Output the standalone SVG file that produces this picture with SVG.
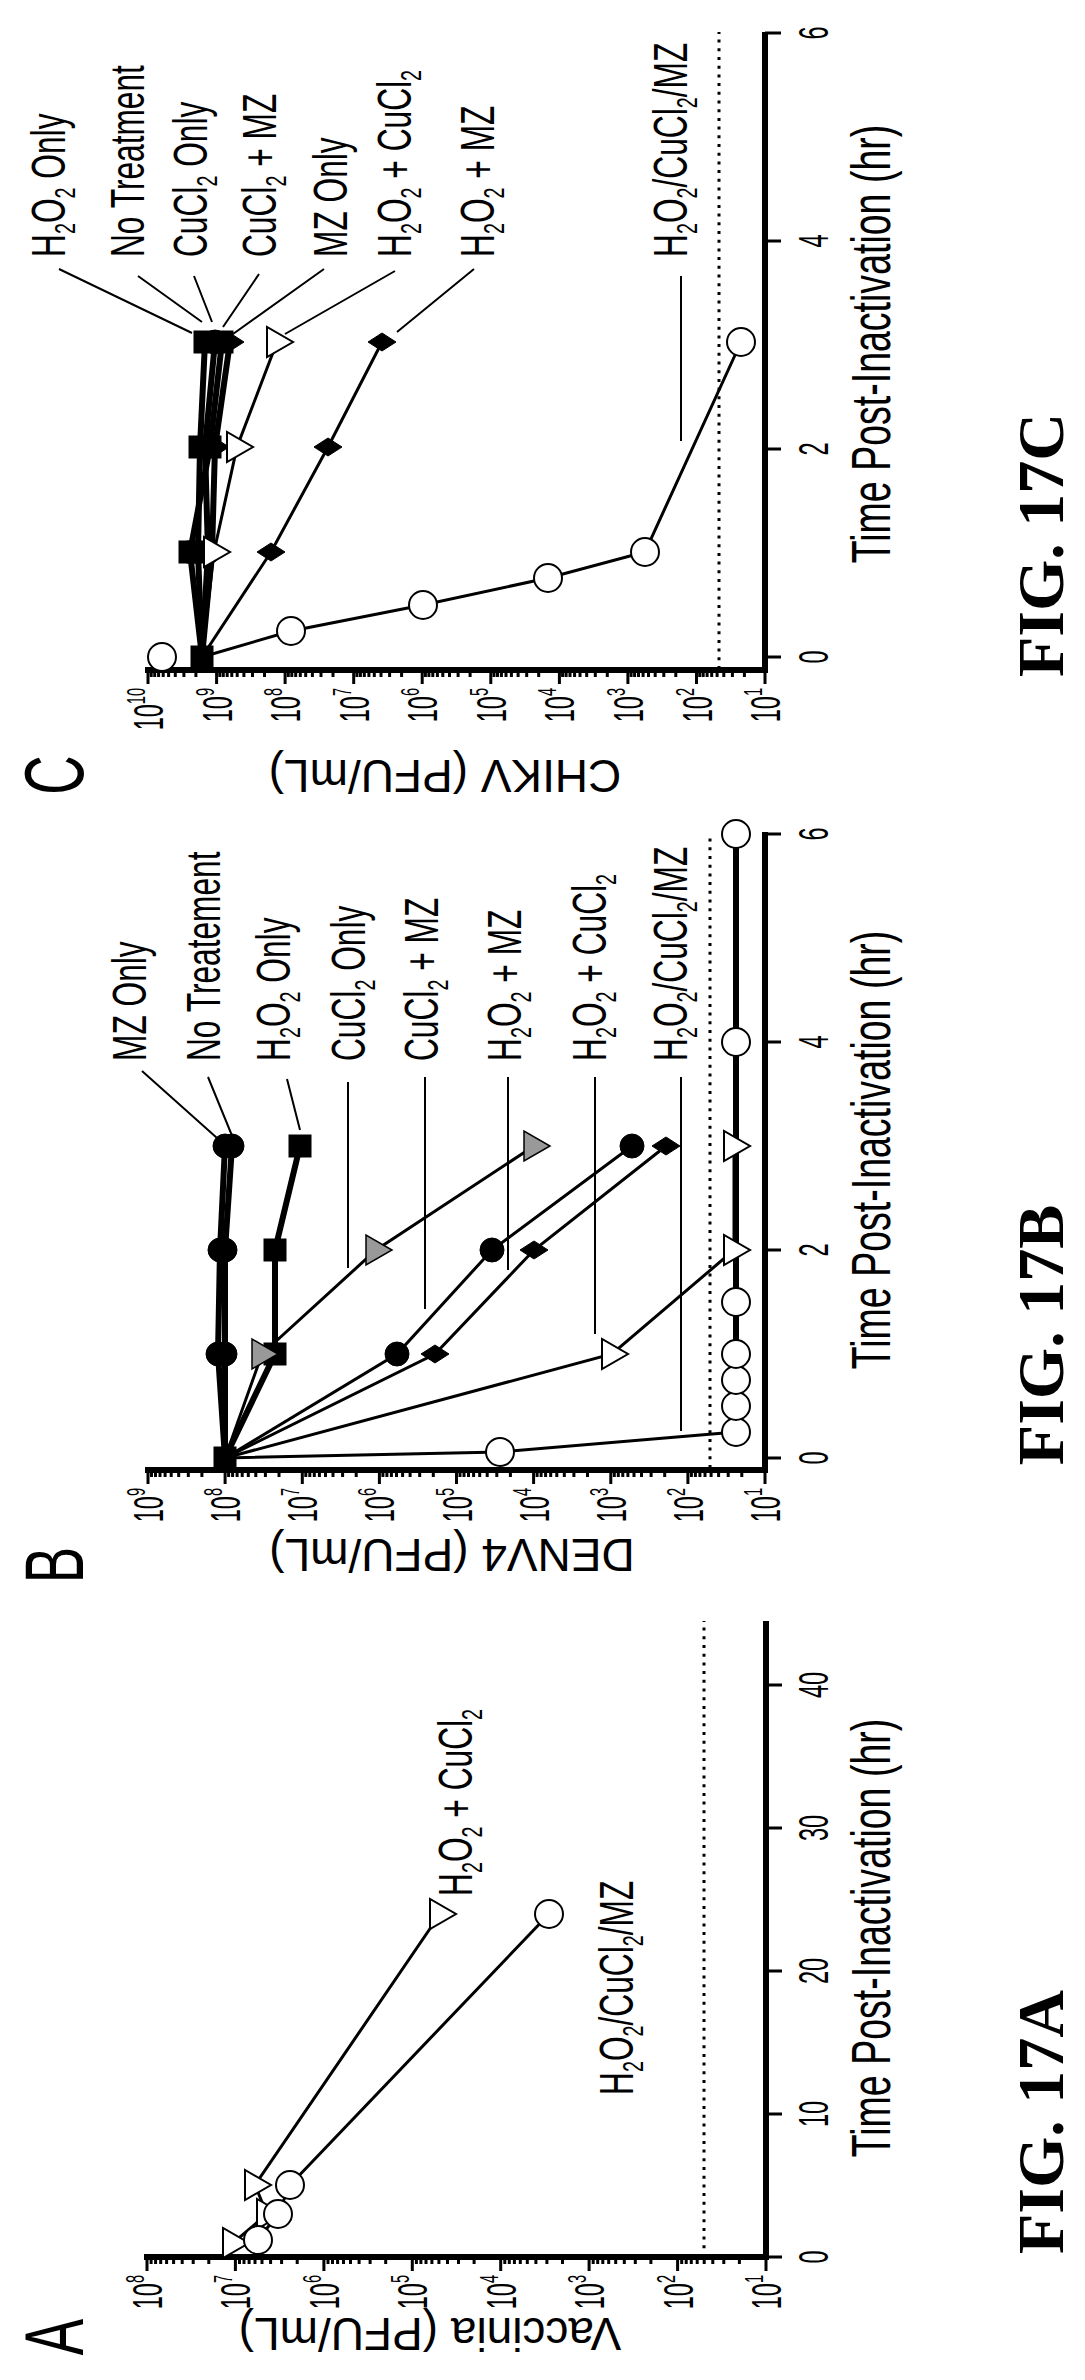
<svg xmlns="http://www.w3.org/2000/svg" xmlns:xlink="http://www.w3.org/1999/xlink" width="1085" height="2380" viewBox="0 0 1085 2380">
<style>
text{font-family:"Liberation Sans",Arial,sans-serif;fill:#000}
.lbl{font-size:48px}
.sub{font-size:30px}
.tk{font-size:42px}
.sup{font-size:26px}
.ttl{font-size:46px}
.xt{font-size:56px}
.pl{font-size:84px}
.fig{font-family:"Liberation Serif","Times New Roman",serif;font-size:66px;font-weight:bold}
.ax{fill:none;stroke:#000;stroke-width:6}
.tick{fill:none;stroke:#000;stroke-width:3}
.dot{fill:none;stroke:#000;stroke-width:3;stroke-dasharray:3 5.7}
.ln{fill:none;stroke:#000;stroke-width:3}
.th{fill:none;stroke:#000;stroke-width:6}
.ld{fill:none;stroke:#000;stroke-width:2}
.open{fill:#fff;stroke:#000;stroke-width:2}
.fill{fill:#000;stroke:#000;stroke-width:1}
.gray{fill:#999;stroke:#000;stroke-width:1.5}
</style>
<defs>
<path id="tri" d="M-15,-10 L15,-10 L0,16 Z"/>
<circle id="cir" r="14"/>
<circle id="fc" r="12"/>
<rect id="sq" x="-11" y="-11" width="22" height="22"/>
<path id="dia" d="M0,-14 L9,0 L0,14 L-9,0 Z"/>
<path id="mA" d="M0,61.8h-7M0,46.2h-7M0,35.2h-7M0,26.6h-7M0,19.6h-7M0,13.7h-7M0,8.6h-7M0,4.1h-7"/>
<path id="mB" d="M0,53.9h-7M0,40.3h-7M0,30.7h-7M0,23.2h-7M0,17.1h-7M0,12h-7M0,7.5h-7M0,3.5h-7"/>
<path id="mC" d="M0,47.9h-7M0,35.9h-7M0,27.3h-7M0,20.6h-7M0,15.2h-7M0,10.6h-7M0,6.7h-7M0,3.2h-7"/>
</defs>
<g transform="translate(0,2380) rotate(-90)">
<!-- Panel A -->
<g id="panelA">
<path class="ax" d="M123,144V769M120,766H759"/>
<path class="tick" d="M123,147h-14M123,235.4h-14M123,323.9h-14M123,412.3h-14M123,500.7h-14M123,589.1h-14M123,677.6h-14M123,766h-14"/>
<g class="tick">
<use xlink:href="#mA" x="123" y="147"/><use xlink:href="#mA" x="123" y="235.4"/><use xlink:href="#mA" x="123" y="323.9"/><use xlink:href="#mA" x="123" y="412.3"/><use xlink:href="#mA" x="123" y="500.7"/><use xlink:href="#mA" x="123" y="589.1"/><use xlink:href="#mA" x="123" y="677.6"/>
</g>
<path class="tick" d="M123,766v16M266,766v16M409,766v16M552,766v16M695,766v16"/>
<path class="dot" d="M123,704H759"/>
<text class="tk" transform="translate(105,162) scale(.56,1)" text-anchor="end">10<tspan class="sup" dy="-18">8</tspan></text>
<text class="tk" transform="translate(105,250.4) scale(.56,1)" text-anchor="end">10<tspan class="sup" dy="-18">7</tspan></text>
<text class="tk" transform="translate(105,338.9) scale(.56,1)" text-anchor="end">10<tspan class="sup" dy="-18">6</tspan></text>
<text class="tk" transform="translate(105,427.3) scale(.56,1)" text-anchor="end">10<tspan class="sup" dy="-18">5</tspan></text>
<text class="tk" transform="translate(105,515.7) scale(.56,1)" text-anchor="end">10<tspan class="sup" dy="-18">4</tspan></text>
<text class="tk" transform="translate(105,604.1) scale(.56,1)" text-anchor="end">10<tspan class="sup" dy="-18">3</tspan></text>
<text class="tk" transform="translate(105,692.6) scale(.56,1)" text-anchor="end">10<tspan class="sup" dy="-18">2</tspan></text>
<text class="tk" transform="translate(105,781) scale(.56,1)" text-anchor="end">10<tspan class="sup" dy="-18">1</tspan></text>
<text class="tk" transform="translate(123,828) scale(.56,1)" text-anchor="middle">0</text>
<text class="tk" transform="translate(266,828) scale(.56,1)" text-anchor="middle">10</text>
<text class="tk" transform="translate(409,828) scale(.56,1)" text-anchor="middle">20</text>
<text class="tk" transform="translate(552,828) scale(.56,1)" text-anchor="middle">30</text>
<text class="tk" transform="translate(695,828) scale(.56,1)" text-anchor="middle">40</text>
<text class="ttl" transform="translate(62,430) rotate(-90)" text-anchor="middle">Vaccinia (PFU/mL)</text>
<text class="xt" transform="translate(442,890) scale(.67,1)" text-anchor="middle">Time Post-Inactivation (hr)</text>
<text class="pl" transform="translate(43,83) scale(.65,1)" text-anchor="middle">A</text>
<text class="fig" x="258" y="1063" text-anchor="middle">FIG. 17A</text>
<polyline class="ln" points="137,233 166,267 195,255 466,440"/>
<polyline class="ln" points="140,258 166,278 195,290 466,549"/>
<g class="open"><use xlink:href="#tri" x="137" y="233"/><use xlink:href="#tri" x="166" y="267"/><use xlink:href="#tri" x="195" y="255"/><use xlink:href="#tri" x="466" y="440"/>
<use xlink:href="#cir" x="140" y="258"/><use xlink:href="#cir" x="166" y="278"/><use xlink:href="#cir" x="195" y="290"/><use xlink:href="#cir" x="466" y="549"/></g>
<text class="lbl" transform="translate(484,472) scale(.66,1)">H<tspan class="sub" dy="10">2</tspan><tspan dy="-10">O</tspan><tspan class="sub" dy="10">2</tspan><tspan dy="-10"> + CuCl</tspan><tspan class="sub" dy="10">2</tspan></text>
<text class="lbl" transform="translate(285,633) scale(.66,1)">H<tspan class="sub" dy="10">2</tspan><tspan dy="-10">O</tspan><tspan class="sub" dy="10">2</tspan><tspan dy="-10">/CuCl</tspan><tspan class="sub" dy="10">2</tspan><tspan dy="-10">/MZ</tspan></text>
</g>
<!-- Panel B -->
<g id="panelB">
<path class="ax" d="M910,145V768M907,765H1548"/>
<path class="tick" d="M910,148h-14M910,225.1h-14M910,302.3h-14M910,379.4h-14M910,456.5h-14M910,533.6h-14M910,610.8h-14M910,687.9h-14M910,765h-14"/>
<g class="tick">
<use xlink:href="#mB" x="910" y="148"/><use xlink:href="#mB" x="910" y="225.1"/><use xlink:href="#mB" x="910" y="302.3"/><use xlink:href="#mB" x="910" y="379.4"/><use xlink:href="#mB" x="910" y="456.5"/><use xlink:href="#mB" x="910" y="533.6"/><use xlink:href="#mB" x="910" y="610.8"/><use xlink:href="#mB" x="910" y="687.9"/>
</g>
<path class="tick" d="M922,765v16M1130,765v16M1338,765v16M1546,765v16"/>
<path class="dot" d="M912,710H1546"/>
<text class="tk" transform="translate(892,163) scale(.56,1)" text-anchor="end">10<tspan class="sup" dy="-18">9</tspan></text>
<text class="tk" transform="translate(892,240.1) scale(.56,1)" text-anchor="end">10<tspan class="sup" dy="-18">8</tspan></text>
<text class="tk" transform="translate(892,317.3) scale(.56,1)" text-anchor="end">10<tspan class="sup" dy="-18">7</tspan></text>
<text class="tk" transform="translate(892,394.4) scale(.56,1)" text-anchor="end">10<tspan class="sup" dy="-18">6</tspan></text>
<text class="tk" transform="translate(892,471.5) scale(.56,1)" text-anchor="end">10<tspan class="sup" dy="-18">5</tspan></text>
<text class="tk" transform="translate(892,548.6) scale(.56,1)" text-anchor="end">10<tspan class="sup" dy="-18">4</tspan></text>
<text class="tk" transform="translate(892,625.8) scale(.56,1)" text-anchor="end">10<tspan class="sup" dy="-18">3</tspan></text>
<text class="tk" transform="translate(892,702.9) scale(.56,1)" text-anchor="end">10<tspan class="sup" dy="-18">2</tspan></text>
<text class="tk" transform="translate(892,780) scale(.56,1)" text-anchor="end">10<tspan class="sup" dy="-18">1</tspan></text>
<text class="tk" transform="translate(922,828) scale(.56,1)" text-anchor="middle">0</text>
<text class="tk" transform="translate(1130,828) scale(.56,1)" text-anchor="middle">2</text>
<text class="tk" transform="translate(1338,828) scale(.56,1)" text-anchor="middle">4</text>
<text class="tk" transform="translate(1546,828) scale(.56,1)" text-anchor="middle">6</text>
<text class="ttl" transform="translate(841,452) rotate(-90)" text-anchor="middle">DENV4 (PFU/mL)</text>
<text class="xt" transform="translate(1230,890) scale(.67,1)" text-anchor="middle">Time Post-Inactivation (hr)</text>
<text class="pl" transform="translate(815,83) scale(.65,1)" text-anchor="middle">B</text>
<text class="fig" x="1045" y="1063" text-anchor="middle">FIG. 17B</text>
<polyline class="th" points="922,225 1026,218 1130,220 1234,225"/>
<polyline class="th" points="922,225 1026,225 1130,225 1234,232"/>
<polyline class="th" points="922,225 1026,275 1130,275 1234,300"/>
<polyline class="ln" points="922,225 1026,262 1130,376 1234,534"/>
<polyline class="ln" points="922,225 1026,397 1130,492 1234,632"/>
<polyline class="ln" points="922,225 1026,435 1130,534 1234,666"/>
<polyline class="ln" points="922,225 1026,612 1130,734 1234,734"/>
<polyline class="ln" points="922,225 928,500 948,736"/>
<path class="th" d="M948,736H1546"/>
<g class="fill"><use xlink:href="#fc" x="1026" y="218"/><use xlink:href="#fc" x="1130" y="220"/><use xlink:href="#fc" x="1234" y="225"/>
<use xlink:href="#fc" x="1026" y="225"/><use xlink:href="#fc" x="1130" y="225"/><use xlink:href="#fc" x="1234" y="232"/>
<use xlink:href="#sq" x="1026" y="275"/><use xlink:href="#sq" x="1130" y="275"/><use xlink:href="#sq" x="1234" y="300"/>
<use xlink:href="#fc" x="1026" y="397"/><use xlink:href="#fc" x="1130" y="492"/><use xlink:href="#fc" x="1234" y="632"/>
<use xlink:href="#dia" x="1026" y="435"/><use xlink:href="#dia" x="1130" y="534"/><use xlink:href="#dia" x="1234" y="666"/>
<use xlink:href="#sq" x="922" y="225"/></g>
<g class="gray"><use xlink:href="#tri" x="1026" y="262"/><use xlink:href="#tri" x="1130" y="376"/><use xlink:href="#tri" x="1234" y="534"/></g>
<g class="open"><use xlink:href="#tri" x="1026" y="612"/><use xlink:href="#tri" x="1130" y="734"/><use xlink:href="#tri" x="1234" y="734"/>
<use xlink:href="#cir" x="928" y="500"/><use xlink:href="#cir" x="948" y="736"/><use xlink:href="#cir" x="974" y="736"/><use xlink:href="#cir" x="1000" y="736"/><use xlink:href="#cir" x="1026" y="736"/><use xlink:href="#cir" x="1078" y="736"/><use xlink:href="#cir" x="1338" y="736"/><use xlink:href="#cir" x="1546" y="736"/></g>
<text class="lbl" transform="translate(1319,146) scale(.66,1)">MZ Only</text>
<text class="lbl" transform="translate(1319,220) scale(.66,1)">No Treatement</text>
<text class="lbl" transform="translate(1319,290) scale(.66,1)">H<tspan class="sub" dy="10">2</tspan><tspan dy="-10">O</tspan><tspan class="sub" dy="10">2</tspan><tspan dy="-10"> Only</tspan></text>
<text class="lbl" transform="translate(1319,365) scale(.66,1)">CuCl<tspan class="sub" dy="10">2</tspan><tspan dy="-10"> Only</tspan></text>
<text class="lbl" transform="translate(1319,438) scale(.66,1)">CuCl<tspan class="sub" dy="10">2</tspan><tspan dy="-10"> + MZ</tspan></text>
<text class="lbl" transform="translate(1319,521) scale(.66,1)">H<tspan class="sub" dy="10">2</tspan><tspan dy="-10">O</tspan><tspan class="sub" dy="10">2</tspan><tspan dy="-10"> + MZ</tspan></text>
<text class="lbl" transform="translate(1319,606) scale(.66,1)">H<tspan class="sub" dy="10">2</tspan><tspan dy="-10">O</tspan><tspan class="sub" dy="10">2</tspan><tspan dy="-10"> + CuCl</tspan><tspan class="sub" dy="10">2</tspan></text>
<text class="lbl" transform="translate(1319,687) scale(.66,1)">H<tspan class="sub" dy="10">2</tspan><tspan dy="-10">O</tspan><tspan class="sub" dy="10">2</tspan><tspan dy="-10">/CuCl</tspan><tspan class="sub" dy="10">2</tspan><tspan dy="-10">/MZ</tspan></text>
</g>
<!-- Panel C -->
<g id="panelC">
<path class="ax" d="M1710,145V768M1707,765H2348"/>
<path class="tick" d="M1710,148h-14M1710,216.6h-14M1710,285.1h-14M1710,353.7h-14M1710,422.2h-14M1710,490.8h-14M1710,559.4h-14M1710,627.9h-14M1710,696.5h-14M1710,765h-14"/>
<g class="tick">
<use xlink:href="#mC" x="1710" y="148"/><use xlink:href="#mC" x="1710" y="216.6"/><use xlink:href="#mC" x="1710" y="285.1"/><use xlink:href="#mC" x="1710" y="353.7"/><use xlink:href="#mC" x="1710" y="422.2"/><use xlink:href="#mC" x="1710" y="490.8"/><use xlink:href="#mC" x="1710" y="559.4"/><use xlink:href="#mC" x="1710" y="627.9"/><use xlink:href="#mC" x="1710" y="696.5"/>
</g>
<path class="tick" d="M1723,765v16M1931,765v16M2139,765v16M2347,765v16"/>
<path class="dot" d="M1711,719H2348"/>
<text class="tk" transform="translate(1692,163) scale(.56,1)" text-anchor="end">10<tspan class="sup" dy="-18">10</tspan></text>
<text class="tk" transform="translate(1692,231.6) scale(.56,1)" text-anchor="end">10<tspan class="sup" dy="-18">9</tspan></text>
<text class="tk" transform="translate(1692,300.1) scale(.56,1)" text-anchor="end">10<tspan class="sup" dy="-18">8</tspan></text>
<text class="tk" transform="translate(1692,368.7) scale(.56,1)" text-anchor="end">10<tspan class="sup" dy="-18">7</tspan></text>
<text class="tk" transform="translate(1692,437.2) scale(.56,1)" text-anchor="end">10<tspan class="sup" dy="-18">6</tspan></text>
<text class="tk" transform="translate(1692,505.8) scale(.56,1)" text-anchor="end">10<tspan class="sup" dy="-18">5</tspan></text>
<text class="tk" transform="translate(1692,574.4) scale(.56,1)" text-anchor="end">10<tspan class="sup" dy="-18">4</tspan></text>
<text class="tk" transform="translate(1692,642.9) scale(.56,1)" text-anchor="end">10<tspan class="sup" dy="-18">3</tspan></text>
<text class="tk" transform="translate(1692,711.5) scale(.56,1)" text-anchor="end">10<tspan class="sup" dy="-18">2</tspan></text>
<text class="tk" transform="translate(1692,780) scale(.56,1)" text-anchor="end">10<tspan class="sup" dy="-18">1</tspan></text>
<text class="tk" transform="translate(1723,828) scale(.56,1)" text-anchor="middle">0</text>
<text class="tk" transform="translate(1931,828) scale(.56,1)" text-anchor="middle">2</text>
<text class="tk" transform="translate(2139,828) scale(.56,1)" text-anchor="middle">4</text>
<text class="tk" transform="translate(2347,828) scale(.56,1)" text-anchor="middle">6</text>
<text class="ttl" transform="translate(1620,445) rotate(-90)" text-anchor="middle">CHIKV (PFU/mL)</text>
<text class="xt" transform="translate(2036,890) scale(.67,1)" text-anchor="middle">Time Post-Inactivation (hr)</text>
<text class="pl" transform="translate(1605,83) scale(.65,1)" text-anchor="middle">C</text>
<text class="fig" x="1835" y="1063" text-anchor="middle">FIG. 17C</text>
<polyline class="th" points="1723,202 1828,198 1933,200 2038,205"/>
<polyline class="th" points="1723,202 1828,208 1933,205 2038,215"/>
<polyline class="th" points="1723,202 1828,190 1933,210 2038,222"/>
<polyline class="th" points="1723,202 1828,212 1933,215 2038,230"/>
<polyline class="ln" points="1723,202 1828,214 1933,237 2038,277"/>
<polyline class="ln" points="1723,202 1828,271 1933,328 2038,382"/>
<polyline class="ln" points="1723,202 1749,291 1775,423 1802,548 1828,645 2038,741"/>
<g class="fill"><use xlink:href="#sq" x="1723" y="202"/>
<use xlink:href="#sq" x="1828" y="198"/><use xlink:href="#sq" x="1933" y="200"/><use xlink:href="#sq" x="2038" y="205"/>
<use xlink:href="#fc" x="1828" y="208"/><use xlink:href="#fc" x="1933" y="205"/><use xlink:href="#fc" x="2038" y="215"/>
<use xlink:href="#sq" x="1828" y="190"/><use xlink:href="#sq" x="1933" y="210"/><use xlink:href="#sq" x="2038" y="222"/>
<use xlink:href="#dia" x="1828" y="212"/><use xlink:href="#dia" x="1933" y="215"/><use xlink:href="#dia" x="2038" y="230"/>
<use xlink:href="#dia" x="1828" y="271"/><use xlink:href="#dia" x="1933" y="328"/><use xlink:href="#dia" x="2038" y="382"/></g>
<g class="open"><use xlink:href="#tri" x="1828" y="214"/><use xlink:href="#tri" x="1933" y="237"/><use xlink:href="#tri" x="2038" y="277"/>
<use xlink:href="#cir" x="1723" y="162"/><use xlink:href="#cir" x="1749" y="291"/><use xlink:href="#cir" x="1775" y="423"/><use xlink:href="#cir" x="1802" y="548"/><use xlink:href="#cir" x="1828" y="645"/><use xlink:href="#cir" x="2038" y="741"/></g>
<text class="lbl" transform="translate(2123,65) scale(.66,1)">H<tspan class="sub" dy="10">2</tspan><tspan dy="-10">O</tspan><tspan class="sub" dy="10">2</tspan><tspan dy="-10"> Only</tspan></text>
<text class="lbl" transform="translate(2123,144) scale(.66,1)">No Treatment</text>
<text class="lbl" transform="translate(2123,207) scale(.66,1)">CuCl<tspan class="sub" dy="10">2</tspan><tspan dy="-10"> Only</tspan></text>
<text class="lbl" transform="translate(2123,276) scale(.66,1)">CuCl<tspan class="sub" dy="10">2</tspan><tspan dy="-10"> + MZ</tspan></text>
<text class="lbl" transform="translate(2123,347) scale(.66,1)">MZ Only</text>
<text class="lbl" transform="translate(2123,411) scale(.66,1)">H<tspan class="sub" dy="10">2</tspan><tspan dy="-10">O</tspan><tspan class="sub" dy="10">2</tspan><tspan dy="-10"> + CuCl</tspan><tspan class="sub" dy="10">2</tspan></text>
<text class="lbl" transform="translate(2123,494) scale(.66,1)">H<tspan class="sub" dy="10">2</tspan><tspan dy="-10">O</tspan><tspan class="sub" dy="10">2</tspan><tspan dy="-10"> + MZ</tspan></text>
<text class="lbl" transform="translate(2123,687) scale(.66,1)">H<tspan class="sub" dy="10">2</tspan><tspan dy="-10">O</tspan><tspan class="sub" dy="10">2</tspan><tspan dy="-10">/CuCl</tspan><tspan class="sub" dy="10">2</tspan><tspan dy="-10">/MZ</tspan></text>
</g>
<!-- Leader lines -->
<g id="connectors" class="ld">
<path d="M1309,142L1242,217M1303,208L1237,235M1301,287L1250,300M1298,348H1112M1303,425H1071M1303,508H1110M1303,595H1046M1303,681H949"/>
<path d="M2111,59L2047,192M2104,138L2058,202M2104,194L2058,212M2106,259L2053,223M2111,324L2046,233M2109,395L2046,285M2111,474L2048,397M2104,681H1939"/>
</g>
</g>
</svg>
